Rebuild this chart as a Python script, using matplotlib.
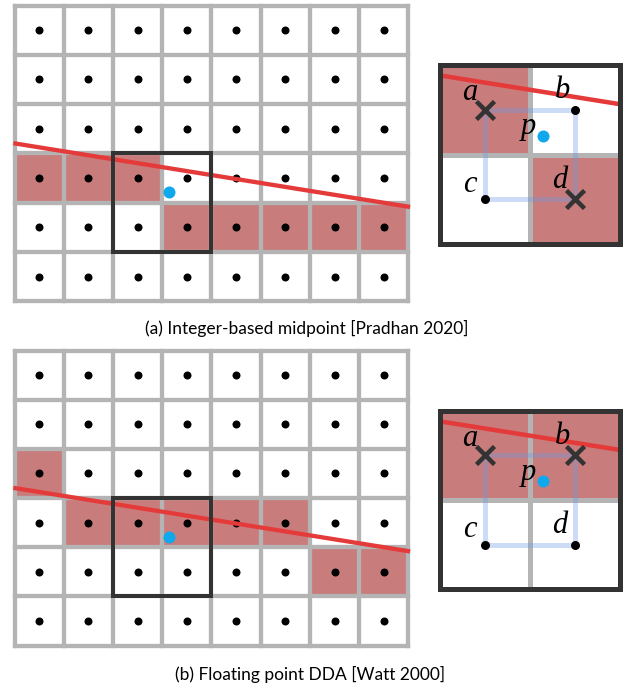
'''
Line rasterisation on a pixel grid: integer midpoint vs. floating point DDA,
with a close-up of the 2x2 decision neighbourhood for each.
'''
import numpy as np
import matplotlib as mpl
import matplotlib.pyplot as plt
from matplotlib.patches import Rectangle

mpl.rcParams['font.family'] = 'Lato'

# -- grid and line --
n_cols, n_rows = 8, 6
line_x = [0.02, 7.99]
line_y = [2.80, 4.08]
p_xy = (3.14, 3.79)        # sample point p
window = (2, 3)            # top-left cell of the 2x2 close-up window

# filled pixels (col, row) for each method
filled_a = [(0, 3), (1, 3), (2, 3), (3, 4), (4, 4), (5, 4), (6, 4), (7, 4)]
filled_b = [(0, 2), (1, 3), (2, 3), (3, 3), (4, 3), (5, 3), (6, 4), (7, 4)]

captions = ['(a) Integer-based midpoint [Pradhan 2020]',
            '(b) Floating point DDA [Watt 2000]']

# -- colours --
c_grid = '#b4b4b4'
c_fill = '#c97c7c'
c_line = '#e53a3a'
c_box = '#333333'
c_p = '#0fa8ec'
c_path = '#6f9be6'

W, H, DPI = 623, 690, 100
PT = 72. / DPI   # points per pixel


def px_axes(fig, x0, y0, x1, y1):
    ''' axes spanning the given pixel box (origin top-left) '''
    ax = fig.add_axes([x0 / W, 1 - y1 / H, (x1 - x0) / W, (y1 - y0) / H])
    ax.set_axis_off()
    return ax


def draw_grid(ax, filled):
    ax.set_xlim(0, n_cols)
    ax.set_ylim(n_rows, 0)
    for (c, r) in filled:
        ax.add_patch(Rectangle((c, r), 1, 1, fc=c_fill, ec='none', zorder=1))
    for i in range(n_cols + 1):
        ax.plot([i, i], [0, n_rows], c=c_grid, lw=4.3 * PT,
                solid_capstyle='projecting', zorder=2, clip_on=False)
    for j in range(n_rows + 1):
        ax.plot([0, n_cols], [j, j], c=c_grid, lw=4.3 * PT,
                solid_capstyle='projecting', zorder=2, clip_on=False)
    xx, yy = np.meshgrid(np.arange(n_cols) + 0.5, np.arange(n_rows) + 0.5)
    ax.plot(xx.ravel(), yy.ravel(), 'o', c='k', ms=8 * PT, mew=0, zorder=3,
            clip_on=False)
    ax.plot(line_x, line_y, c=c_line, lw=4.3 * PT, zorder=4, clip_on=False)
    wx, wy = window
    ax.add_patch(Rectangle((wx, wy), 2, 2, fc='none', ec=c_box, lw=4 * PT,
                           joinstyle='miter', zorder=5, clip_on=False))
    ax.plot(*p_xy, 'o', c=c_p, ms=12 * PT, mew=0, zorder=6, clip_on=False)


def draw_zoom(ax, filled):
    wx, wy = window
    ax.set_xlim(wx, wx + 2)
    ax.set_ylim(wy + 2, wy)
    for (c, r) in filled:
        if wx <= c < wx + 2 and wy <= r < wy + 2:
            ax.add_patch(Rectangle((c, r), 1, 1, fc=c_fill, ec='none', zorder=1))
    ax.plot([wx + 1, wx + 1], [wy, wy + 2], c=c_grid, lw=5 * PT, zorder=2)
    ax.plot([wx, wx + 2], [wy + 1, wy + 1], c=c_grid, lw=5 * PT, zorder=2)
    ax.plot(line_x, line_y, c=c_line, lw=4.5 * PT, zorder=3)

    # centres a, b, c, d of the four pixels
    pts = {'a': (wx + 0.5, wy + 0.5), 'b': (wx + 1.5, wy + 0.5),
           'c': (wx + 0.5, wy + 1.5), 'd': (wx + 1.5, wy + 1.5)}
    order = ['a', 'b', 'd', 'c', 'a']
    ax.plot([pts[k][0] for k in order], [pts[k][1] for k in order],
            c=c_path, alpha=0.35, lw=5 * PT, zorder=4)
    offs = {'a': (-15, 17), 'b': (-12, 19), 'c': (-15, 15), 'd': (-15, 19)}
    for k, (x, y) in pts.items():
        on = (int(x), int(y)) in filled
        if on:
            ax.plot(x, y, 'x', c=c_box, ms=18 * PT, mew=4.5 * PT, zorder=5)
        else:
            ax.plot(x, y, 'o', c='k', ms=9 * PT, mew=0, zorder=5)
        ax.annotate(k, (x, y), xytext=(offs[k][0] * PT, offs[k][1] * PT),
                    textcoords='offset points', ha='center', va='center',
                    fontsize=22, family='Liberation Serif', style='italic',
                    zorder=7)
    ax.plot(*p_xy, 'o', c=c_p, ms=12 * PT, mew=0, zorder=6)
    ax.annotate('p', p_xy, xytext=(-14 * PT, 9 * PT), textcoords='offset points',
                ha='center', va='center', fontsize=22,
                family='Liberation Serif', style='italic', zorder=7)
    ax.add_patch(Rectangle((wx, wy), 2, 2, fc='none', ec=c_box, lw=5 * PT,
                           joinstyle='miter', zorder=8, clip_on=False))


fig = plt.figure(figsize=(W / DPI, H / DPI), dpi=DPI)

sub1 = px_axes(fig, 14.5, 5.5, 408.5, 301.3)
draw_grid(sub1, filled_a)
sub2 = px_axes(fig, 439.8, 64.8, 620, 244.2)
draw_zoom(sub2, filled_a)
fig.text(306.5 / W, 1 - 328 / H, captions[0], ha='center', va='center',
         fontsize=12.5)

sub3 = px_axes(fig, 14.5, 350.5, 408.5, 645.5)
draw_grid(sub3, filled_b)
sub4 = px_axes(fig, 439.8, 410.8, 620, 589.2)
draw_zoom(sub4, filled_b)
fig.text(310 / W, 1 - 674 / H, captions[1], ha='center', va='center',
         fontsize=12.5)

fig.savefig('out.png', dpi=DPI)
plt.close()
